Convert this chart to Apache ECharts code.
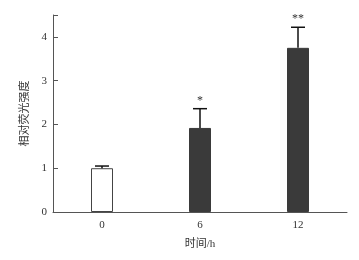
<!DOCTYPE html>
<html><head><meta charset="utf-8">
<script src="https://cdn.jsdelivr.net/npm/echarts@6/dist/echarts.min.js"></script>
<style>html,body{margin:0;padding:0;background:#fff}#c{width:359px;height:260px}</style>
</head><body><div id="c"></div>
<script>
const categories = ['0', '6', '12'];
const means = [1.0, 1.92, 3.75];
const errors = [0.05, 0.44, 0.47];
const marks = ['', '*', '**'];
const yTicks = [0, 1, 2, 3, 4];
const xTitle = '时间/h';
const yTitle = '相对荧光强度';

const font = '"Liberation Serif","Times New Roman","Noto Sans CJK SC",serif';
const axisColor = '#555';
const chart = echarts.init(document.getElementById('c'), null, {renderer: 'canvas'});
chart.setOption({
  animation: false,
  grid: {left: 53, right: 12, top: 15, bottom: 48},
  xAxis: {
    type: 'category', data: categories, boundaryGap: true,
    axisLine: {lineStyle: {color: axisColor, width: 1}},
    axisTick: {show: false},
    axisLabel: {color: '#333', fontFamily: font, fontSize: 11, margin: 8},
    name: xTitle, nameLocation: 'middle', nameGap: 27,
    nameTextStyle: {color: '#333', fontFamily: font, fontSize: 11}
  },
  yAxis: {
    type: 'value', min: 0, max: 4.5, interval: 1,
    axisLine: {show: true, lineStyle: {color: axisColor, width: 1}},
    axisTick: {show: true, inside: true, length: 5, lineStyle: {color: axisColor}},
    splitLine: {show: false},
    axisLabel: {color: '#333', fontFamily: font, fontSize: 11, margin: 6,
      formatter: v => yTicks.includes(v) ? String(v) : ''},
    name: yTitle, nameLocation: 'middle', nameGap: 20,
    nameTextStyle: {color: '#333', fontFamily: font, fontSize: 11}
  },
  series: [
    {
      type: 'bar', barWidth: 22,
      data: means.map((v, i) => ({
        value: v,
        itemStyle: i === 0
          ? {color: '#fff', borderColor: '#444', borderWidth: 1}
          : {color: '#3a3a3a', borderColor: '#3a3a3a', borderWidth: 1}
      }))
    },
    {
      type: 'custom',
      data: means.map((v, i) => [i, v, v + errors[i], marks[i]]),
      renderItem: (params, api) => {
        const top = api.coord([api.value(0), api.value(2)]);
        const base = api.coord([api.value(0), api.value(1)]);
        const hw = 7;
        const children = [
          {type: 'line', shape: {x1: top[0], y1: base[1], x2: top[0], y2: top[1]}, style: {stroke: '#111', lineWidth: 1.5}},
          {type: 'line', shape: {x1: top[0] - hw, y1: top[1], x2: top[0] + hw, y2: top[1]}, style: {stroke: '#111', lineWidth: 1.5}}
        ];
        const m = marks[params.dataIndex];
        if (m) {
          children.push({type: 'text', style: {text: m, x: top[0], y: top[1] - 2, align: 'center', verticalAlign: 'bottom',
            fill: '#333', font: '12px ' + font}});
        }
        return {type: 'group', children};
      },
      z: 3
    }
  ]
});
</script></body></html>
